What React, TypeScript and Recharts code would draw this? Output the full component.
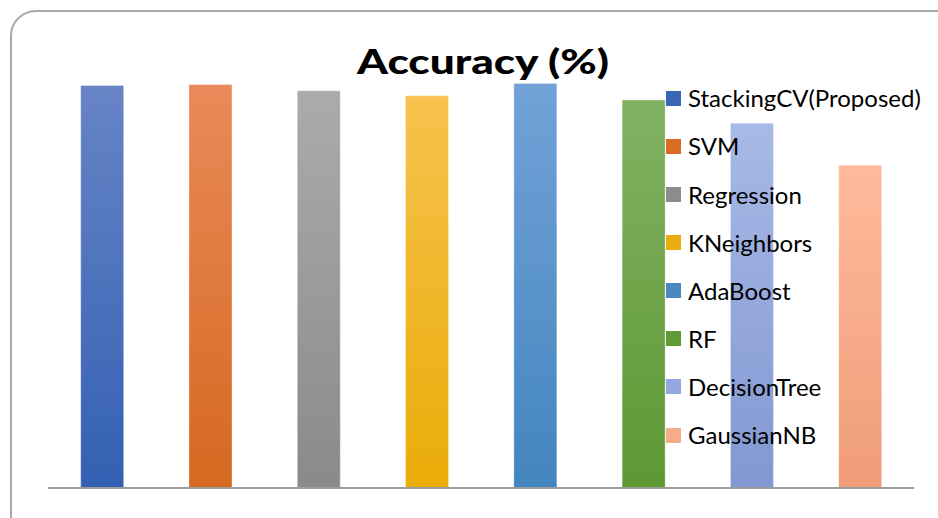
import React from "react";
import { BarChart, Bar, XAxis, YAxis, Cell, Legend, Customized } from "recharts";

// Classifier names shown on the chart and in the legend
const models = [
  "StackingCV(Proposed)",
  "SVM",
  "Regression",
  "KNeighbors",
  "AdaBoost",
  "RF",
  "DecisionTree",
  "GaussianNB",
];

// Accuracy (%) of each classifier
const accuracy = [97.0, 97.2, 95.7, 94.5, 97.5, 93.5, 87.9, 77.8];

// Gradient stops (top, bottom) and legend swatch colour per classifier
const topColors = ["#6784c6", "#e98a5a", "#ababab", "#f7c24d", "#72a2d7", "#82b163", "#a9b9e7", "#ffba9b"];
const bottomColors = ["#3360b3", "#d6681f", "#8a8a8a", "#e9ac08", "#4385bf", "#5d9833", "#8198d1", "#ef9c78"];
const swatchColors = ["#3a64b4", "#db6a22", "#8c8c8c", "#eaad10", "#4a88c2", "#5f9a37", "#93a8df", "#f8ab88"];

const data = models.map((name, i) => ({ name, value: accuracy[i] }));

const W = 938;
const H = 518;

const renderLegend = () => (
  <div style={{ fontFamily: "Lato, 'Open Sans', sans-serif", fontSize: 24, color: "#000" }}>
    {models.map((m, i) => (
      <div key={m} style={{ display: "flex", alignItems: "center", height: 48.1 }}>
        <div style={{ width: 15, height: 15, background: swatchColors[i], marginRight: 7, flex: "none" }} />
        <span style={{ whiteSpace: "nowrap", lineHeight: 1 }}>{m}</span>
      </div>
    ))}
  </div>
);

const Title = () => (
  <text
    x={483}
    y={74}
    textAnchor="middle"
    fontFamily="Lato, 'Open Sans', sans-serif"
    fontWeight={900}
    fontSize={35}
    fill="#000"
    textLength={252}
    lengthAdjust="spacingAndGlyphs"
  >
    Accuracy (%)
  </text>
);

export default function App() {
  return (
    <div
      style={{
        position: "absolute",
        left: 0,
        top: 0,
        width: W,
        height: H,
        overflow: "hidden",
        background: "#fff",
      }}
    >
      <div
        style={{
          position: "absolute",
          left: 10,
          top: 10,
          width: 960,
          height: 560,
          border: "2px solid #a9a9a9",
          borderRadius: 26,
          boxSizing: "border-box",
        }}
      />
      <div style={{ position: "absolute", left: 0, top: 0 }}>
        <BarChart
          width={W}
          height={H}
          data={data}
          margin={{ top: 73, right: 24, bottom: 29, left: 47.7 }}
          barSize={43}
        >
          <defs>
            {models.map((m, i) => (
              <linearGradient key={m} id={`grad${i}`} x1="0" y1="0" x2="0" y2="1">
                <stop offset="0%" stopColor={topColors[i]} />
                <stop offset="100%" stopColor={bottomColors[i]} />
              </linearGradient>
            ))}
          </defs>
          <XAxis
            dataKey="name"
            tick={false}
            tickLine={false}
            height={1}
            axisLine={{ stroke: "#9c9c9c", strokeWidth: 2.2 }}
          />
          <YAxis hide domain={[0, 100]} />
          <Bar dataKey="value" isAnimationActive={false}>
            {data.map((d, i) => (
              <Cell key={d.name} fill={`url(#grad${i})`} stroke="#ffffff" strokeOpacity={0.35} strokeWidth={1} />
            ))}
          </Bar>
          <Legend
            layout="vertical"
            align="center"
            verticalAlign="middle"
            content={renderLegend}
            wrapperStyle={{ position: "absolute", left: 666, top: 74.3, width: 270 }}
          />
          <Customized component={Title} />
        </BarChart>
      </div>
    </div>
  );
}
